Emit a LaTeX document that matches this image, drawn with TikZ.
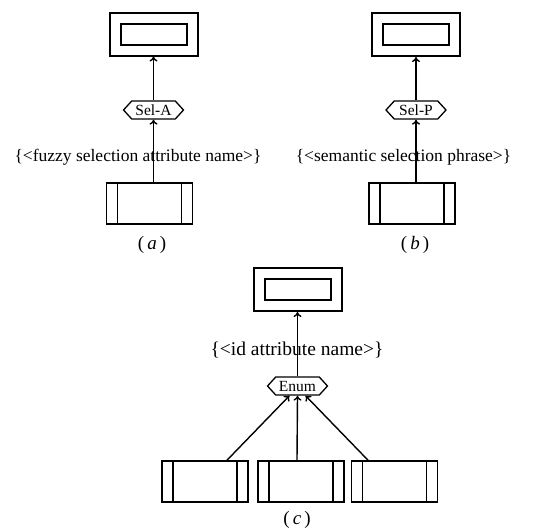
\documentclass[tikz,border=0pt]{standalone}
\usepackage{fontspec}
\setmainfont{Liberation Serif}
\usetikzlibrary{shapes.symbols,arrows.meta}
\begin{document}
\begin{tikzpicture}[x=1pt,y=-1pt,
  entbox/.style={draw, line width=2pt, minimum width=88pt, minimum height=43pt, inner sep=0pt,
    path picture={\draw[line width=2pt] ([shift={(11pt,11pt)}]path picture bounding box.south west) rectangle ([shift={(-11pt,-11pt)}]path picture bounding box.north east);}},
  relbox/.style={draw, line width=1.6pt, minimum width=86pt, minimum height=41pt, inner sep=0pt,
    path picture={\draw[line width=1.6pt] ([xshift=11pt]path picture bounding box.south west) -- ([xshift=11pt]path picture bounding box.north west)
      ([xshift=-11pt]path picture bounding box.south east) -- ([xshift=-11pt]path picture bounding box.north east);}},
  hexnode/.style={draw, line width=1.3pt, signal, signal to=east and west, signal pointer angle=95,
    minimum width=60pt, minimum height=18pt, inner sep=0pt, font=\fontsize{15.5}{15.5}\selectfont},
  conn/.style={-{To[length=5pt,width=8pt]}, line width=1.4pt},
  lbl/.style={font=\fontsize{17.5}{20}\selectfont, inner sep=0pt},
  subcap/.style={font=\fontsize{19}{20}\selectfont, inner sep=0pt}
]
\useasboundingbox (0,0) rectangle (541,531);
% (a)
\node[entbox] (ta) at (153.5,34) {};
\node[hexnode] (ha) at (153.5,110) {Sel-A};
\node[relbox] (ba) at (149.5,203.5) {};
\node[lbl] (la) at (138,157) {\{<fuzzy selection attribute name>\}};
\node[subcap] (ca) at (152,245) {(\,\textit{a}\,)};
\draw[conn] (ha.north) -- (ta.south);
\draw[conn] (ha.south |- ba.north) -- (ha.south);
% (b)
\node[entbox] (tb) at (416,34.5) {};
\node[hexnode] (hb) at (416,110) {Sel-P};
\node[relbox] (bb) at (412,203.5) {};
\node[lbl] (lb) at (403.5,157) {\{<semantic selection phrase>\}};
\node[subcap] (cb) at (415,245) {(\,\textit{b}\,)};
\draw[conn] (hb.north) -- (tb.south);
\draw[conn] (hb.south |- bb.north) -- (hb.south);
% (c)
\node[entbox] (tc) at (297.5,289.5) {};
\node[lbl, font=\fontsize{19.5}{20}\selectfont] (lc) at (297,350) {\{<id attribute name>\}};
\node[hexnode] (hc) at (297.5,386) {Enum};
\node[relbox] (b1) at (205,481.5) {};
\node[relbox] (b2) at (301,481.5) {};
\node[relbox] (b3) at (394.5,481.5) {};
\node[subcap] (cc) at (297,520) {(\,\textit{c}\,)};
\draw[conn] (hc.north) -- (tc.south);
\draw[conn] ([xshift=22pt]b1.north) -- ([xshift=-8pt]hc.south);
\draw[conn] ([xshift=-4pt]b2.north) -- (hc.south);
\draw[conn] ([xshift=-26.5pt]b3.north) -- ([xshift=8pt]hc.south);
\end{tikzpicture}
\end{document}
